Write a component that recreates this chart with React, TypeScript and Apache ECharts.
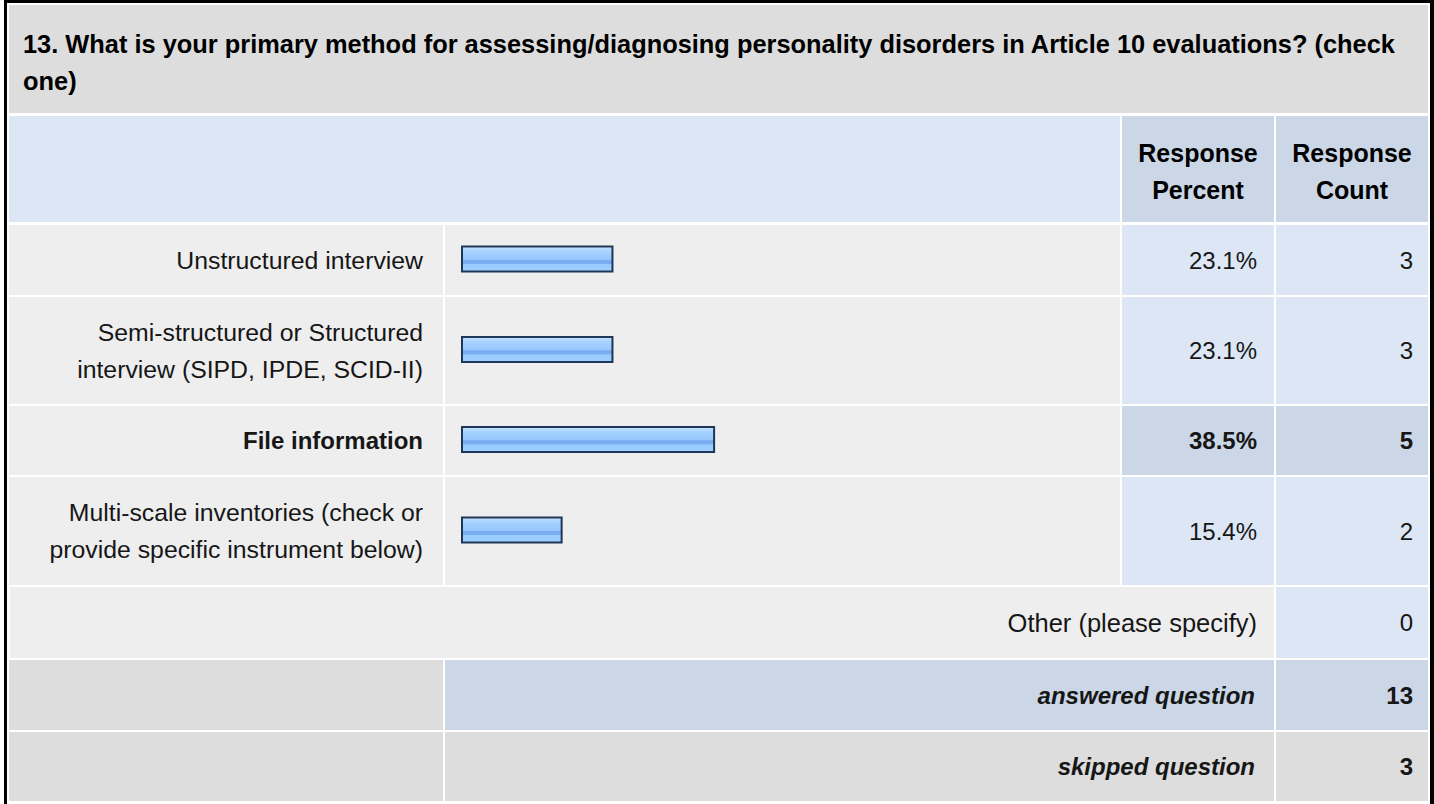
import React, { useEffect, useRef } from "react";
import * as echarts from "echarts";

// ---------- data ----------
const questionTitle =
  "13. What is your primary method for assessing/diagnosing personality disorders in Article 10 evaluations? (check\none)";
const headerPercent = "Response\nPercent";
const headerCount = "Response\nCount";
const answerChoices = [
  "Unstructured interview",
  "Semi-structured or Structured\ninterview (SIPD, IPDE, SCID-II)",
  "File information",
  "Multi-scale inventories (check or\nprovide specific instrument below)",
];
const responsePercent = [23.1, 23.1, 38.5, 15.4];
const responseCount = [3, 3, 5, 2];
const otherLabel = "Other (please specify)";
const otherCount = 0;
const answeredLabel = "answered question";
const answeredCount = 13;
const skippedLabel = "skipped question";
const skippedCount = 3;

// ---------- layout ----------
const FONT = "'Liberation Sans', Arial, Helvetica, sans-serif";
const LH = 37;
const C_LABEL = [9, 443];
const C_BAR = [445, 1120];
const C_PCT = [1122, 1274];
const C_CNT = [1276, 1428];
const TITLE_Y = [5, 113];
const HEAD_Y = [116, 222];
const ROW_Y = [
  [225, 295],
  [297, 404],
  [406, 475],
  [477, 585],
];
const OTHER_Y = [587, 658];
const ANSWERED_Y = [660, 730];
const SKIPPED_Y = [732, 801];

const GREY = "#dddddd";
const LIGHT = "#eeeeee";
const BLUE = "#dce6f4";
const BLUE_DARK = "#cbd7e6";

function rect(x0: number, x1: number, y0: number, y1: number, fill: string) {
  return {
    type: "rect",
    silent: true,
    z: 0,
    shape: { x: x0, y: y0, width: x1 - x0, height: y1 - y0 },
    style: { fill },
  };
}

function txt(
  x: number,
  y: number,
  s: string,
  align: string,
  opts: { bold?: boolean; italic?: boolean; color?: string; size?: number } = {}
) {
  return {
    type: "text",
    silent: true,
    z: 5,
    x,
    y,
    style: {
      text: s,
      fontFamily: FONT,
      fontSize: opts.size || 24,
      fontWeight: opts.bold ? "bold" : "normal",
      fontStyle: opts.italic ? "italic" : "normal",
      fill: opts.color || "#161616",
      align,
      verticalAlign: "middle",
      lineHeight: LH,
    },
  };
}

const mid = (r: number[]) => (r[0] + r[1]) / 2;

export default function App() {
  const ref = useRef<HTMLDivElement>(null);

  useEffect(() => {
    if (!ref.current) return;
    const chart = echarts.init(ref.current, undefined, { renderer: "svg" });
    const maxPct = Math.max(...responsePercent);

    const graphics: any[] = [];
    // outer border
    graphics.push(rect(4, 7, 0, 804, "#000"));
    graphics.push(rect(4, 1434, 0, 3, "#000"));
    graphics.push(rect(1430, 1434, 0, 804, "#000"));
    // title
    graphics.push(rect(C_LABEL[0], C_CNT[1], TITLE_Y[0], TITLE_Y[1], GREY));
    graphics.push(
      txt(23, mid(TITLE_Y) + 3, questionTitle, "left", { bold: true, color: "#000", size: 25.4 })
    );
    // header
    graphics.push(rect(C_LABEL[0], C_BAR[1], HEAD_Y[0], HEAD_Y[1], BLUE));
    graphics.push(rect(C_PCT[0], C_PCT[1], HEAD_Y[0], HEAD_Y[1], BLUE_DARK));
    graphics.push(rect(C_CNT[0], C_CNT[1], HEAD_Y[0], HEAD_Y[1], BLUE_DARK));
    graphics.push(
      txt(mid(C_PCT), mid(HEAD_Y) + 2, headerPercent, "center", { bold: true, color: "#000", size: 25 })
    );
    graphics.push(
      txt(mid(C_CNT), mid(HEAD_Y) + 2, headerCount, "center", { bold: true, color: "#000", size: 25 })
    );

    // answer rows
    answerChoices.forEach((label, i) => {
      const ry = ROW_Y[i];
      const hi = responsePercent[i] === maxPct;
      graphics.push(rect(C_LABEL[0], C_LABEL[1], ry[0], ry[1], LIGHT));
      graphics.push(rect(C_BAR[0], C_BAR[1], ry[0], ry[1], LIGHT));
      graphics.push(rect(C_PCT[0], C_PCT[1], ry[0], ry[1], hi ? BLUE_DARK : BLUE));
      graphics.push(rect(C_CNT[0], C_CNT[1], ry[0], ry[1], hi ? BLUE_DARK : BLUE));
      graphics.push(txt(423, mid(ry), label, "right", { bold: hi, size: hi ? 24 : 24.8 }));
      graphics.push(txt(1257, mid(ry), responsePercent[i].toFixed(1) + "%", "right", { bold: hi }));
      graphics.push(txt(1413, mid(ry), String(responseCount[i]), "right", { bold: hi }));
    });

    // other
    graphics.push(rect(C_LABEL[0] + 1, C_PCT[1], OTHER_Y[0], OTHER_Y[1], LIGHT));
    graphics.push(rect(C_CNT[0], C_CNT[1], OTHER_Y[0], OTHER_Y[1], BLUE));
    graphics.push(txt(1257, mid(OTHER_Y), otherLabel, "right", { size: 25.5 }));
    graphics.push(txt(1413, mid(OTHER_Y), String(otherCount), "right"));

    // answered
    graphics.push(rect(C_LABEL[0], C_LABEL[1], ANSWERED_Y[0], ANSWERED_Y[1], GREY));
    graphics.push(rect(C_BAR[0], C_PCT[1], ANSWERED_Y[0], ANSWERED_Y[1], BLUE_DARK));
    graphics.push(rect(C_CNT[0], C_CNT[1], ANSWERED_Y[0], ANSWERED_Y[1], BLUE_DARK));
    graphics.push(txt(1255, mid(ANSWERED_Y), answeredLabel, "right", { bold: true, italic: true }));
    graphics.push(txt(1413, mid(ANSWERED_Y), String(answeredCount), "right", { bold: true }));

    // skipped
    graphics.push(rect(C_LABEL[0], C_LABEL[1], SKIPPED_Y[0], SKIPPED_Y[1], GREY));
    graphics.push(rect(C_BAR[0], C_PCT[1], SKIPPED_Y[0], SKIPPED_Y[1], GREY));
    graphics.push(rect(C_CNT[0], C_CNT[1], SKIPPED_Y[0], SKIPPED_Y[1], GREY));
    graphics.push(txt(1255, mid(SKIPPED_Y), skippedLabel, "right", { bold: true, italic: true }));
    graphics.push(txt(1413, mid(SKIPPED_Y), String(skippedCount), "right", { bold: true }));

    const barFill = new echarts.graphic.LinearGradient(0, 0, 0, 1, [
      { offset: 0, color: "#d3eaff" },
      { offset: 0.1, color: "#b4d9ff" },
      { offset: 0.25, color: "#a2d0ff" },
      { offset: 0.52, color: "#96c6fc" },
      { offset: 0.55, color: "#78abf0" },
      { offset: 0.68, color: "#7aaef2" },
      { offset: 0.71, color: "#99ccff" },
      { offset: 0.93, color: "#9ccdff" },
      { offset: 1, color: "#bddfff" },
    ]);

    const grids = ROW_Y.map((ry) => ({
      left: 461,
      width: 660,
      top: mid(ry) - 1 - 20,
      height: 40,
      containLabel: false,
    }));

    chart.setOption({
      animation: false,
      grid: grids,
      xAxis: ROW_Y.map((_, i) => ({
        type: "value",
        gridIndex: i,
        min: 0,
        max: 100,
        show: false,
      })),
      yAxis: ROW_Y.map((_, i) => ({
        type: "category",
        gridIndex: i,
        data: [answerChoices[i]],
        show: false,
      })),
      graphic: { elements: graphics },
      series: responsePercent.map((v, i) => ({
        type: "bar",
        xAxisIndex: i,
        yAxisIndex: i,
        data: [v],
        barWidth: 27,
        z: 10,
        silent: true,
        itemStyle: {
          color: barFill,
          borderColor: "#1e3657",
          borderWidth: 2,
        },
      })),
    });

    return () => chart.dispose();
  }, []);

  return (
    <div
      ref={ref}
      style={{ position: "fixed", left: 0, top: 0, width: 1434, height: 804, background: "#fff" }}
    />
  );
}
